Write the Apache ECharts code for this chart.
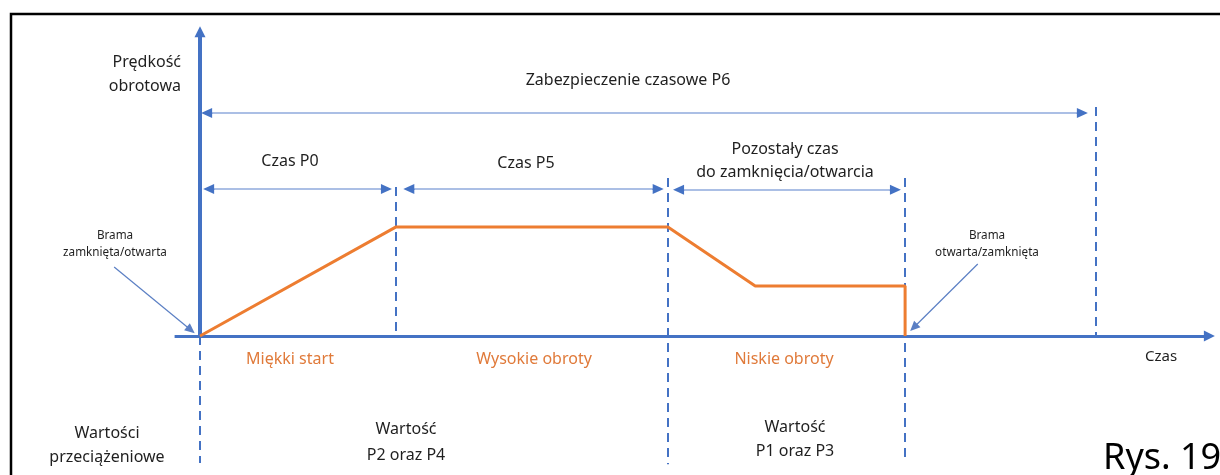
<!DOCTYPE html>
<html>
<head>
<meta charset="utf-8">
<script src="https://cdn.jsdelivr.net/npm/echarts@6/dist/echarts.min.js"></script>
<style>
  html, body { margin: 0; padding: 0; background: #fff; }
  #chart { width: 1220px; height: 475px; }
</style>
</head>
<body>
<div id="chart"></div>
<script>
// predkosc obrotowa w czasie (jednostki umowne)
const times = [0, 3.86, 9.21, 10.93, 13.88, 13.88];
const speeds = [0, 35.3, 35.3, 16.2, 16.2, 0];

// granice faz (linie przerywane)
const boundTimes = [0, 3.86, 9.21, 13.88, 17.64];
const boundTops = [0, 48.2, 51.1, 51.1, 74.1];
const boundBottoms = [-41.1, 0, -41.5, -41.1, 0];

// odcinki czasowe ze strzalkami
const spanStart = [0.02, 0.06, 4.0, 9.31];
const spanEnd = [17.48, 3.78, 9.13, 13.8];
const spanLevel = [72.2, 47.6, 47.6, 47.3];

// wskazniki "Brama ..."
const pointerFrom = [[-1.69, 22.3], [15.31, 23.3]];
const pointerTo = [[-0.18, 1.94], [14.05, 2.75]];

// zakres osi
const xMin = -3.5, xMax = 20, xArrowEnd = 19.87;
const yMin = -45, yMax = 100, yArrowEnd = 98.5;

const BLUE = '#4472C4';
const ORANGE = '#ED7D31';
const TEXT = '#1f1f1f';
const FONT = '"Noto Sans", "DejaVu Sans", sans-serif';
const HEAD = 0.11; // pol grota w jednostkach czasu

const chart = echarts.init(document.getElementById('chart'));

function txt(text, x, y, opts) {
  return {
    type: 'text',
    x: x,
    y: y,
    silent: true,
    style: Object.assign({
      text: text,
      fill: TEXT,
      fontSize: 16,
      fontFamily: FONT,
      align: 'center',
      verticalAlign: 'middle',
      lineHeight: 24
    }, opts || {})
  };
}

const boundLines = boundTimes.map(function (t, i) {
  return [{ coord: [t, boundTops[i]] }, { coord: [t, boundBottoms[i]] }];
});
const spanLines = spanStart.map(function (s, i) {
  return [{ coord: [s + HEAD, spanLevel[i]] }, { coord: [spanEnd[i] - HEAD, spanLevel[i]] }];
});
// ciemne groty strzalek na obu koncach odcinkow
const spanHeads = [];
spanStart.forEach(function (s, i) {
  spanHeads.push([{ coord: [s + 2 * HEAD, spanLevel[i]] }, { coord: [s + HEAD, spanLevel[i]] }]);
  spanHeads.push([{ coord: [spanEnd[i] - 2 * HEAD, spanLevel[i]] }, { coord: [spanEnd[i] - HEAD, spanLevel[i]] }]);
});
const pointerLines = pointerFrom.map(function (p, i) {
  return [{ coord: p }, { coord: pointerTo[i] }];
});

function decoSeries(markLine) {
  return {
    type: 'line',
    data: [],
    silent: true,
    markLine: Object.assign({
      silent: true,
      label: { show: false },
      emphasis: { disabled: true }
    }, markLine)
  };
}

const option = {
  animation: false,
  backgroundColor: '#fff',
  grid: { left: 22.2, right: 4, top: 27, bottom: 0 },
  xAxis: { type: 'value', min: xMin, max: xMax, show: false },
  yAxis: { type: 'value', min: yMin, max: yMax, show: false },
  series: [
    decoSeries({
      symbol: ['none', 'none'],
      lineStyle: { color: BLUE, width: 2, type: [9, 6] },
      data: boundLines
    }),
    decoSeries({
      symbol: ['none', 'none'],
      lineStyle: { color: '#8FAADC', width: 1.6, type: 'solid' },
      data: spanLines
    }),
    decoSeries({
      symbol: ['none', 'triangle'],
      symbolSize: [10, 11],
      lineStyle: { color: BLUE, width: 1, type: 'solid' },
      data: spanHeads
    }),
    decoSeries({
      symbol: ['none', 'triangle'],
      symbolSize: [9, 10],
      lineStyle: { color: '#5B7FC4', width: 1.2, type: 'solid' },
      data: pointerLines
    }),
    decoSeries({
      symbol: ['none', 'triangle'],
      symbolSize: [11, 11],
      data: [
        [{ coord: [-0.5, 0], lineStyle: { color: BLUE, width: 3, type: 'solid' } }, { coord: [xArrowEnd, 0] }],
        [{ coord: [0, 0], lineStyle: { color: BLUE, width: 4, type: 'solid' } }, { coord: [0, yArrowEnd] }]
      ]
    }),
    {
      name: 'Prędkość obrotowa',
      type: 'line',
      data: times.map(function (t, i) { return [t, speeds[i]]; }),
      showSymbol: false,
      silent: true,
      lineStyle: { color: ORANGE, width: 3 },
      z: 5
    }
  ],
  graphic: [
    {
      type: 'polyline',
      silent: true,
      shape: { points: [[11, 480], [11, 14], [1225, 14]] },
      style: { stroke: '#000', lineWidth: 2.5, fill: null }
    },
    txt('Prędkość\nobrotowa', 181, 74, { align: 'right' }),
    txt('Zabezpieczenie czasowe P6', 628, 80),
    txt('Czas P0', 290, 161),
    txt('Czas P5', 526, 163),
    txt('Pozostały czas\ndo zamknięcia/otwarcia', 785, 160.5, { lineHeight: 23 }),
    txt('Brama\nzamknięta/otwarta', 115, 244.5, { fontSize: 11.7, lineHeight: 17 }),
    txt('Brama\notwarta/zamknięta', 987, 244.5, { fontSize: 11.7, lineHeight: 17 }),
    txt('Miękki start', 290, 359, { fill: '#E07A3A' }),
    txt('Wysokie obroty', 534, 359, { fill: '#E07A3A' }),
    txt('Niskie obroty', 784, 359, { fill: '#E07A3A' }),
    txt('Czas', 1161, 357, { fontSize: 15 }),
    txt('Wartości\nprzeciążeniowe', 107, 445),
    txt('Wartość\nP2 oraz P4', 406, 442, { lineHeight: 26 }),
    txt('Wartość\nP1 oraz P3', 795, 439, { lineHeight: 24 }),
    txt('Rys. 19', 1103, 459, { fontSize: 36, align: 'left', fill: '#000', lineHeight: 40 })
  ]
};

chart.setOption(option);
</script>
</body>
</html>
